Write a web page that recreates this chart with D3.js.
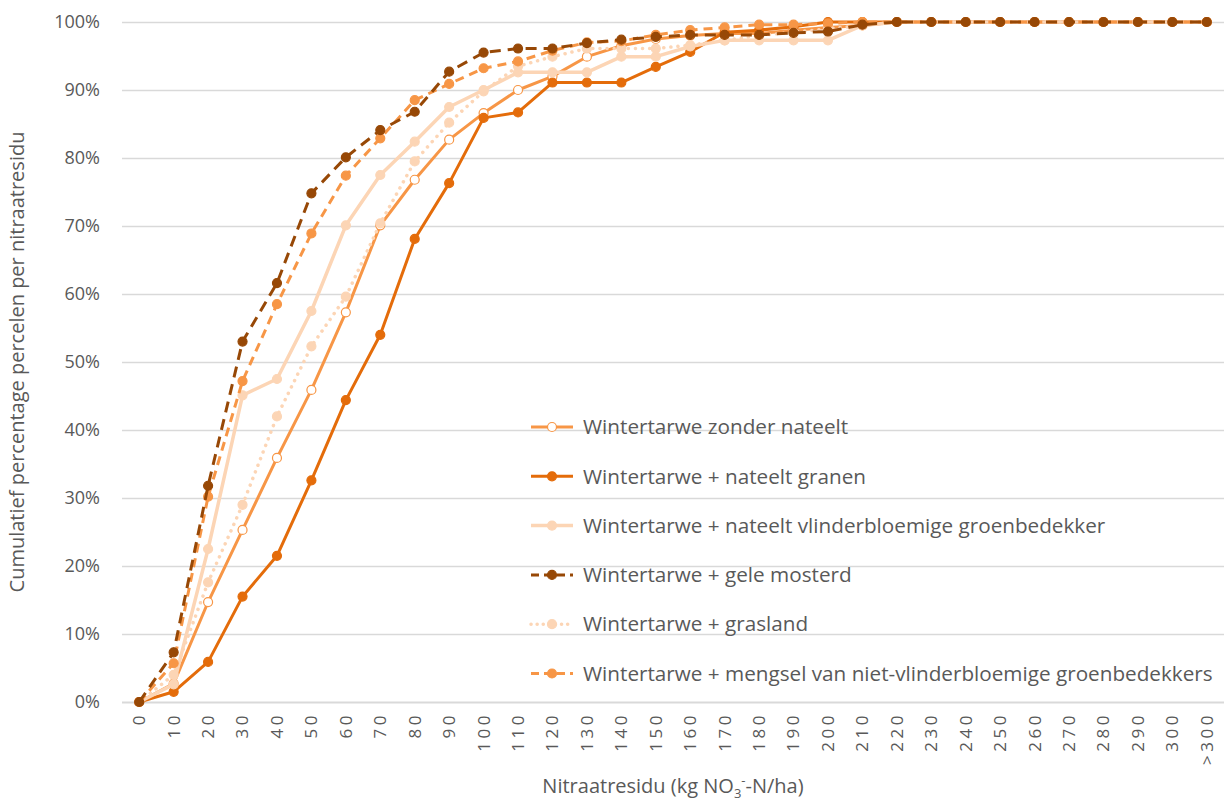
<!DOCTYPE html>
<html>
<head>
<meta charset="utf-8">
<script src="https://cdn.jsdelivr.net/npm/d3@7"></script>
<style>
  html, body { margin: 0; padding: 0; background: #fff; }
  svg { display: block; }
  text { font-family: "Open Sans", "Liberation Sans", Arial, sans-serif; fill: #595959; }
</style>
</head>
<body>
<svg id="chart" width="1224" height="804"></svg>
<script>
const categories = ["0","10","20","30","40","50","60","70","80","90","100","110","120","130","140","150","160","170","180","190","200","210","220","230","240","250","260","270","280","290","300",">300"];
const yTicks = [0, 10, 20, 30, 40, 50, 60, 70, 80, 90, 100];

const seriesNames = [
  "Wintertarwe zonder nateelt",
  "Wintertarwe + nateelt granen",
  "Wintertarwe + nateelt vlinderbloemige groenbedekker",
  "Wintertarwe + gele mosterd",
  "Wintertarwe + grasland",
  "Wintertarwe + mengsel van niet-vlinderbloemige groenbedekkers"
];

const zonderNateelt = [0, 2.7, 14.7, 25.3, 35.9, 45.9, 57.3, 70.1, 76.8, 82.7, 86.6, 90.0, 92.0, 94.9, 96.5, 97.5, 98.0, 98.3, 98.3, 98.8, 99.2, 99.5, 100, 100, 100, 100, 100, 100, 100, 100, 100, 100];
const nateeltGranen = [0, 1.5, 5.9, 15.5, 21.5, 32.6, 44.4, 54.0, 68.1, 76.3, 85.9, 86.7, 91.1, 91.1, 91.1, 93.4, 95.6, 98.5, 98.8, 99.3, 100, 100, 100, 100, 100, 100, 100, 100, 100, 100, 100, 100];
const nateeltVlinder = [0, 2.6, 22.5, 45.1, 47.5, 57.5, 70.1, 77.5, 82.4, 87.5, 90.0, 92.6, 92.6, 92.6, 94.9, 94.9, 96.4, 97.3, 97.3, 97.3, 97.3, 99.5, 100, 100, 100, 100, 100, 100, 100, 100, 100, 100];
const geleMosterd = [0, 7.3, 31.8, 53.0, 61.6, 74.8, 80.1, 84.1, 86.8, 92.7, 95.5, 96.1, 96.1, 96.9, 97.4, 97.8, 98.1, 98.1, 98.1, 98.4, 98.6, 99.6, 100, 100, 100, 100, 100, 100, 100, 100, 100, 100];
const grasland = [0, 4.0, 17.6, 29.0, 42.0, 52.3, 59.6, 70.4, 79.5, 85.2, 89.8, 93.5, 94.9, 96.1, 96.1, 96.1, 96.6, 97.3, 98.0, 98.5, 99.0, 99.5, 100, 100, 100, 100, 100, 100, 100, 100, 100, 100];
const mengsel = [0, 5.7, 30.2, 47.2, 58.5, 68.9, 77.4, 82.9, 88.5, 90.9, 93.2, 94.2, 95.8, 97.0, 97.2, 98.1, 98.8, 99.2, 99.6, 99.6, 99.8, 100, 100, 100, 100, 100, 100, 100, 100, 100, 100, 100];

const seriesValues = [zonderNateelt, nateeltGranen, nateeltVlinder, geleMosterd, grasland, mengsel];

const styles = [
  { color: "#F79646", dash: null, fill: "#FFFFFF", width: 3 },
  { color: "#E46C0A", dash: null, fill: null, width: 3 },
  { color: "#FCD5B5", dash: null, fill: null, width: 3.5 },
  { color: "#974806", dash: "11,7", fill: null, width: 3 },
  { color: "#FCD5B5", dash: "0.1,7", fill: null, width: 3.5, cap: "round" },
  { color: "#F79646", dash: "9,6", fill: null, width: 3 }
];

const margin = { left: 122, right: 0, top: 22, bottom: 102 };
const W = 1224, H = 804;
const svg = d3.select("#chart");

const x = d3.scaleBand().domain(categories).range([margin.left, W - margin.right]);
const y = d3.scaleLinear().domain([0, 100]).range([H - margin.bottom, margin.top]);
const cx = d => x(d) + x.bandwidth() / 2;

// gridlines
svg.append("g").selectAll("line").data(yTicks).join("line")
  .attr("x1", margin.left).attr("x2", W - margin.right)
  .attr("y1", d => y(d) + 0.5).attr("y2", d => y(d) + 0.5)
  .attr("stroke", "#D9D9D9").attr("stroke-width", d => d === 0 ? 2 : 1.3);

// y tick labels
svg.append("g").selectAll("text").data(yTicks).join("text")
  .attr("x", 100).attr("y", d => y(d)).attr("dy", "0.35em")
  .attr("text-anchor", "end").attr("font-size", 18)
  .text(d => d + "%");

// x tick labels (rotated)
svg.append("g").selectAll("text").data(categories).join("text")
  .attr("transform", d => `translate(${cx(d)},${y(0) + 10}) rotate(-90)`)
  .attr("text-anchor", "end").attr("dy", "0.35em").attr("font-size", 17)
  .attr("font-family", "DejaVu Sans").attr("letter-spacing", 3.5)
  .text(d => d);

// axis titles
svg.append("text")
  .attr("transform", `translate(24,${(y(0) + y(100)) / 2}) rotate(-90)`)
  .attr("text-anchor", "middle").attr("font-size", 20)
  .text("Cumulatief percentage percelen per nitraatresidu");

const xt = svg.append("text")
  .attr("x", 673).attr("y", 793)
  .attr("text-anchor", "middle").attr("font-size", 20);
xt.append("tspan").text("Nitraatresidu (kg NO");
xt.append("tspan").attr("font-size", 13).attr("dy", 5).text("3");
xt.append("tspan").attr("font-size", 13).attr("dy", -13).text("-");
xt.append("tspan").attr("dy", 8).text("-N/ha)");

// lines
const line = d3.line().x((d, i) => cx(categories[i])).y(d => y(d));
const gSeries = svg.append("g");
[0,1,2,4,5,3].forEach(si => {
  const st = styles[si];
  const g = gSeries.append("g");
  g.append("path").datum(seriesValues[si])
    .attr("d", line).attr("fill", "none")
    .attr("stroke", st.color).attr("stroke-width", st.width)
    .attr("stroke-dasharray", st.dash)
    .attr("stroke-linecap", st.cap || "butt")
    .attr("stroke-linejoin", "round");
  g.selectAll("circle").data(seriesValues[si]).join("circle")
    .attr("cx", (d, i) => cx(categories[i])).attr("cy", d => y(d))
    .attr("r", 4.5)
    .attr("fill", st.fill || st.color)
    .attr("stroke", st.color).attr("stroke-width", 1.2);
});

// legend
const legY0 = 427, legStep = 49.3;
const leg = svg.append("g");
seriesNames.forEach((name, si) => {
  const st = styles[si];
  const ly = legY0 + si * legStep;
  leg.append("line").attr("x1", 531).attr("x2", 573).attr("y1", ly).attr("y2", ly)
    .attr("stroke", st.color).attr("stroke-width", st.width)
    .attr("stroke-dasharray", st.dash ? (si === 4 ? "0.1,6" : "8,5") : null)
    .attr("stroke-linecap", st.cap || "butt");
  leg.append("circle").attr("cx", 552).attr("cy", ly).attr("r", 4.5)
    .attr("fill", st.fill || st.color).attr("stroke", st.color).attr("stroke-width", 1.2);
  leg.append("text").attr("x", 583).attr("y", ly).attr("dy", "0.35em")
    .attr("font-size", 20.7).text(name);
});
</script>
</body>
</html>
